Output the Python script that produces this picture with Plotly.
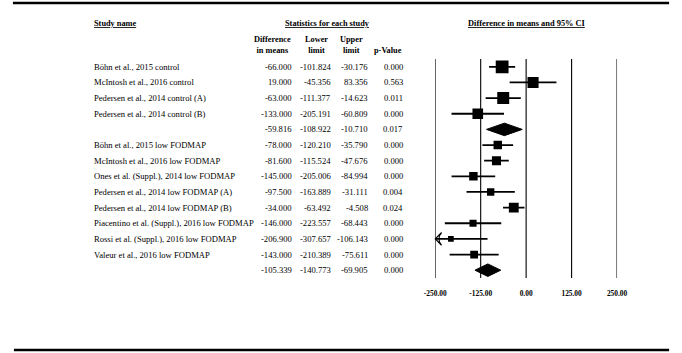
import plotly.graph_objects as go

# ---------------- data ----------------
study_names = [
    "Böhn et al., 2015 control",
    "McIntosh et al., 2016 control",
    "Pedersen et al., 2014 control (A)",
    "Pedersen et al., 2014 control (B)",
    "",
    "Böhn et al., 2015 low FODMAP",
    "McIntosh et al., 2016 low FODMAP",
    "Ones et al. (Suppl.), 2014 low FODMAP",
    "Pedersen et al., 2014 low FODMAP (A)",
    "Pedersen et al., 2014 low FODMAP (B)",
    "Piacentino et al. (Suppl.), 2016 low FODMAP",
    "Rossi et al. (Suppl.), 2016 low FODMAP",
    "Valeur et al., 2016 low FODMAP",
    "",
]
is_summary = [False, False, False, False, True,
              False, False, False, False, False, False, False, False, True]
diff_means = [-66.000, 19.000, -63.000, -133.000, -59.816,
              -78.000, -81.600, -145.000, -97.500, -34.000, -146.000, -206.900, -143.000, -105.339]
lower_limit = [-101.824, -45.356, -111.377, -205.191, -108.922,
               -120.210, -115.524, -205.006, -163.889, -63.492, -223.557, -307.657, -210.389, -140.773]
upper_limit = [-30.176, 83.356, -14.623, -60.809, -10.710,
               -35.790, -47.676, -84.994, -31.111, -4.508, -68.443, -106.143, -75.611, -69.905]
p_values = [0.000, 0.563, 0.011, 0.000, 0.017,
            0.000, 0.000, 0.000, 0.004, 0.024, 0.000, 0.000, 0.000, 0.000]
rel_weight = [16, 12, 14, 11, None,
              7, 8, 7, 5.3, 9.4, 4.9, 3.2, 5.9, None]
tick_vals = [-250, -125, 0, 125, 250]
tick_text = ["-250.00", "-125.00", "0.00", "125.00", "250.00"]

W, H = 682, 353
FONT = "Liberation Serif"
X_MIN, X_MAX = -250, 250
Y_TOP, Y_BOT = 59, 278

def px(x):
    return x / W

def py(y):
    return 1 - y / H

rows = list(range(1, len(study_names) + 1))

fig = go.Figure()

# study squares with CI lines
st = [i for i, s in enumerate(is_summary) if not s]
for i in st:
    lo = max(lower_limit[i], X_MIN)
    hi = min(upper_limit[i], X_MAX)
    fig.add_trace(go.Scatter(
        x=[lo, hi], y=[rows[i], rows[i]], mode="lines",
        line=dict(color="black", width=1.8), hoverinfo="skip", showlegend=False))
    if lower_limit[i] < X_MIN:
        fig.add_trace(go.Scatter(
            x=[X_MIN], y=[rows[i]], mode="markers",
            marker=dict(symbol="arrow-wide-open", angle=-90, size=9, color="black",
                        opacity=1, line=dict(color="black", width=1.2)),
            hoverinfo="skip", showlegend=False, cliponaxis=False))
fig.add_trace(go.Scatter(
    x=[diff_means[i] for i in st], y=[rows[i] for i in st], mode="markers",
    marker=dict(symbol="square", color="black", opacity=1,
                size=[3.2 * rel_weight[i] ** 0.5 for i in st], line=dict(width=0)),
    hoverinfo="skip", showlegend=False))

# summary diamonds
h = 0.4
for i, s in enumerate(is_summary):
    if s:
        r = rows[i]
        fig.add_trace(go.Scatter(
            x=[lower_limit[i], diff_means[i], upper_limit[i], diff_means[i], lower_limit[i]],
            y=[r, r - h, r, r + h, r], mode="lines", fill="toself",
            fillcolor="black", line=dict(color="black", width=1),
            hoverinfo="skip", showlegend=False))

ann = []
fs = 8.6
def add(text, x, y, xanchor="left", yref="y", size=fs, bold=False):
    ann.append(dict(text=("<b>%s</b>" % text) if bold else text, x=x, y=y,
                    xref="paper", yref=yref, xanchor=xanchor, yanchor="middle",
                    showarrow=False, borderpad=0, borderwidth=0,
                    font=dict(family=FONT, size=size, color="black")))

NAME_X = 86
for i, r in enumerate(rows):
    if study_names[i]:
        add(study_names[i], px(NAME_X), r)
    add("%.3f" % diff_means[i], px(290), r, "right")
    add("%.3f" % lower_limit[i], px(330), r, "right")
    add("%.3f" % upper_limit[i], px(368), r, "right")
    add("%.3f" % p_values[i], px(404), r, "right")

# headers
u = '<span style="text-decoration:underline">%s</span>'
add(u % "Study name", px(NAME_X), py(23), "left", "paper", 8.3, True)
add(u % "Statistics for each study", px(327), py(23), "center", "paper", 8.3, True)
add(u % "Difference in means and 95% CI", px(532), py(23), "center", "paper", 8.4, True)
add("Difference<br>in means", px(270), py(45), "center", "paper", 8.3, True)
add("Lower<br>limit", px(315), py(45), "center", "paper", 8.3, True)
add("Upper<br>limit", px(351), py(45), "center", "paper", 8.3, True)
add("p-Value", px(389), py(50), "center", "paper", 8.3, True)

shapes = [
    dict(type="line", xref="paper", yref="paper", x0=px(2), x1=px(679), y0=py(3), y1=py(3),
         line=dict(color="black", width=2.5)),
    dict(type="line", xref="paper", yref="paper", x0=px(3), x1=px(679), y0=py(350), y1=py(350),
         line=dict(color="black", width=2.5)),
]
for t in tick_vals:
    shapes.append(dict(type="line", xref="x", yref="paper", x0=t, x1=t,
                       y0=py(Y_BOT), y1=py(Y_TOP), line=dict(color="black", width=1.1),
                       layer="below"))

fig.update_layout(
    width=W, height=H, autosize=False,
    margin=dict(l=0, r=0, t=0, b=0),
    paper_bgcolor="white", plot_bgcolor="white",
    annotations=ann, shapes=shapes,
    xaxis=dict(domain=[437.7 / W, 625.3 / W], range=[X_MIN, X_MAX],
               tickvals=tick_vals, ticktext=["<b>%s</b>" % t for t in tick_text],
               showgrid=False, zeroline=False,
               showline=False, ticks="outside", ticklen=8, tickcolor="rgba(0,0,0,0)",
               tickfont=dict(family=FONT, size=7.4, color="black"), fixedrange=True),
    yaxis=dict(domain=[py(Y_BOT), py(Y_TOP)], range=[len(rows) + 0.5, 0.5],
               showgrid=False, zeroline=False, showticklabels=False, showline=False,
               ticks="", fixedrange=True),
)

fig.write_html("out.html", config={"displayModeBar": False},
               post_script="document.body.style.margin='0';document.body.style.overflow='hidden';")
